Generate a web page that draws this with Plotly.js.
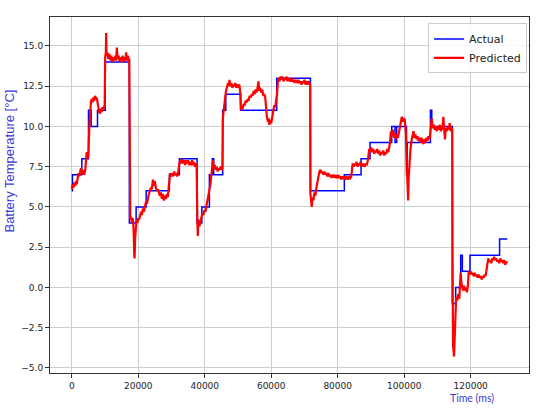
<!DOCTYPE html>
<html>
<head>
<meta charset="utf-8">
<script src="https://cdn.plot.ly/plotly-3.0.1.min.js"></script>
<style>html,body{margin:0;padding:0;background:#fff;}#chart{width:540px;height:409px;}</style>
</head>
<body>
<div id="chart"></div>
<script>
// Actual battery temperature: [time ms, °C] change points (step signal)
const actualSeries = [[0,6],[200,7],[3030,8],[5030,11],[5830,10],[7740,11],[10060,14],[17320,4],[19360,5],[22370,6],[29380,7],[32385,8],[37700,4],[39120,5],[41400,7],[42300,8],[42700,7],[45400,11],[46330,12],[50840,11],[61660,13],[71800,6],[82000,7],[87030,8],[89730,9],[96250,10],[97250,9],[97750,10],[100700,7],[100900,9],[107900,11],[108300,10],[114480,-1],[115490,0],[117000,2],[117500,1],[119800,2],[128700,3],[131000,3]];

// Predicted battery temperature: [time ms, °C]
const predictedSeries = [[0,6.1],[250,6.4],[500,6.2],[750,6.5],[1000,6.3],[1250,6.6],[1500,6.4],
[1750,6.8],[2000,7.1],[2250,6.9],[2500,7.2],[2750,7.4],[3000,7.2],[3250,7.0],[3500,7.3],[3750,7.0],[4000,7.2],[4250,7.8],[4500,8.4],[4750,8.0],[5000,8.3],
[5250,9.8],[5500,11.2],[5750,11.5],[6000,11.7],[6250,11.5],[6500,11.8],[6750,11.6],[7000,11.9],[7250,11.7],[7500,11.8],[7750,11.5],[8000,11.1],[8250,10.9],[8500,10.8],[8750,11.1],[9000,10.9],[9250,11.2],[9500,11.1],[9750,11.3],[9900,11.3],
[10050,14.3],[10250,14.6],[10350,15.8],[10450,14.4],[10700,14.6],[11000,14.2],[11300,14.5],[11600,14.1],[11900,14.4],[12200,14.0],[12500,14.3],[12800,14.1],[13100,14.4],[13350,14.1],[13560,14.9],[13800,14.2],[14100,14.4],[14400,14.0],[14700,14.3],[15000,14.1],[15300,14.4],[15600,14.0],[15900,14.3],[16150,14.1],[16350,14.6],[16600,14.1],[16900,14.4],[17150,14.1],[17300,14.2],
[17380,4.6],[17600,4.2],[17850,4.4],[18100,4.0],[18350,4.3],[18600,3.6],[18800,2.0],[18900,1.8],[19050,3.0],[19270,4.0],[19500,4.2],[19750,4.0],[20000,4.3],[20250,4.2],[20570,4.5],[20850,4.7],[21100,4.5],[21400,4.9],[21700,4.7],[22000,5.0],[22300,5.3],[22600,5.2],[22900,5.6],[23200,5.8],[23500,6.0],[23800,6.2],[24100,6.1],[24400,6.7],[24700,6.3],[25000,6.6],[25300,6.2],[25600,6.0],[25900,6.1],[26200,5.9],[26500,5.7],[26800,5.9],[27100,5.5],[27400,5.8],[27700,5.4],[28000,5.7],[28300,5.5],[28600,5.8],[28900,5.6],[29150,6.2],[29400,6.9],[29600,7.1],[29900,6.9],[30200,7.1],[30500,6.9],[30800,7.2],[31100,7.0],[31400,7.1],[31700,6.9],[32000,7.1],[32300,7.6],[32600,7.9],[32900,7.7],[33200,8.0],[33500,7.7],[33800,7.9],[34100,7.6],[34400,7.9],[34700,7.7],[35000,7.9],[35300,7.6],[35600,7.8],[35900,7.6],[36200,7.9],[36500,7.6],[36800,7.8],[37100,7.5],[37400,7.7],[37550,7.6],
[37650,4.4],[37800,4.0],[37920,3.2],[38100,4.2],[38400,3.8],[38700,4.1],[39000,4.3],[39300,4.6],[39600,4.5],[39900,4.8],[40200,4.7],[40500,5.0],[40800,5.3],[41100,5.6],[41400,6.0],[41700,6.4],[42000,7.0],[42300,7.5],[42500,7.9],[42700,7.4],[43000,7.6],[43300,7.3],[43600,7.5],[43900,7.2],[44200,7.4],[44500,7.3],[44800,7.5],[45100,7.3],[45300,7.4],
[45450,10.5],[45700,11.1],[46000,11.3],[46150,11.8],[46400,12.2],[46700,12.6],[47000,12.7],[47300,12.5],[47450,12.9],[47700,12.5],[48000,12.7],[48300,12.4],[48600,12.6],[48900,12.5],[49200,12.7],[49500,12.4],[49800,12.6],[50100,12.5],[50400,12.6],[50650,12.2],[50850,11.0],[51100,11.2],[51400,11.1],[51700,11.4],[52000,11.3],[52300,11.6],[52600,11.5],[52900,11.7],[53200,11.6],[53500,11.9],[53800,11.8],[54100,12.0],[54400,11.9],[54700,12.2],[55000,12.0],[55300,12.3],[55600,12.1],[55900,12.4],[56150,12.8],[56400,12.2],[56700,12.4],[57000,12.1],[57300,12.3],[57600,11.9],[57900,12.0],[58150,11.9],[58400,11.2],[58700,10.6],[59000,10.3],[59200,10.5],[59450,10.1],[59700,10.4],[60000,10.2],[60300,10.6],[60650,10.9],[60900,11.3],[61200,11.2],[61500,11.6],[61750,12.0],[62000,12.8],[62200,13.0],
[62500,12.8],[62800,13.1],[63100,12.9],[63400,13.1],[63700,12.8],[64000,13.0],[64300,12.9],[64600,13.1],[64900,12.8],[65200,13.0],[65500,12.9],[65800,12.8],[66100,13.0],[66400,12.8],[66700,12.9],[67000,12.7],[67300,12.9],[67600,12.8],[67900,12.7],[68200,12.9],[68500,12.7],[68800,12.8],[69100,12.6],[69400,12.8],[69700,12.7],[70000,12.9],[70300,12.6],[70600,12.8],[70900,12.6],[71200,12.8],[71500,12.7],[71700,12.6],
[71800,5.8],[72000,5.5],[72200,5.0],[72400,5.6],[72700,5.4],[73000,5.9],[73300,5.7],[73600,6.2],[73900,6.6],[74200,7.0],[74500,7.2],[74800,7.3],[75100,7.1],[75400,7.2],[75700,7.0],[76000,7.2],[76300,7.0],[76600,7.1],[76900,6.9],[77200,7.1],[77500,6.9],[77800,7.0],[78100,6.8],[78400,7.0],[78700,6.9],[79000,7.0],[79300,6.8],[79600,6.9],[79900,6.8],[80200,7.0],[80500,6.8],[80800,6.9],[81100,6.7],[81400,6.9],[81700,6.8],[82000,6.9],[82300,6.7],[82600,6.9],[82900,6.8],[83200,6.7],[83500,6.9],[83800,6.8],[84100,6.9],[84300,7.5],[84500,7.7],[84800,7.5],[85100,7.7],[85400,7.6],[85700,7.8],[86000,7.5],[86300,7.7],[86600,7.6],[86900,7.8],[87200,7.5],[87500,7.7],[87800,7.6],[88100,7.5],[88400,7.7],[88700,7.6],[89000,7.8],
[89300,8.3],[89500,8.6],[89800,8.4],[90100,8.7],[90400,8.4],[90700,8.6],[91000,8.3],[91300,8.5],[91600,8.4],[91900,8.6],[92200,8.3],[92500,8.5],[92800,8.2],[93100,8.4],[93400,8.3],[93700,8.5],[94000,8.2],[94300,8.4],[94600,8.3],[94900,8.6],[95200,8.4],[95500,8.7],[95750,9.0],[96000,9.7],[96300,9.4],[96600,9.8],[96900,9.3],[97200,9.6],[97500,9.2],[97800,9.5],[98100,9.3],[98400,9.6],[98700,9.9],[99000,10.4],[99300,10.6],[99600,10.3],[99900,10.5],[100200,10.4],[100500,9.6],[100800,7.5],[101000,6.2],[101200,5.4],[101350,6.8],[101600,7.9],[101900,8.6],[102200,9.1],[102500,9.4],[102800,9.7],[103100,9.3],[103400,9.5],[103700,9.2],[104000,9.4],[104300,9.1],[104600,9.3],[104900,9.0],[105200,9.3],[105500,9.1],[105800,8.9],[106100,9.2],[106400,9.0],[106700,9.3],[107000,9.1],[107300,9.4],[107600,9.2],[107850,9.6],
[108050,10.3],[108300,10.5],[108600,9.9],[108900,10.1],[109200,9.8],[109500,10.0],[109800,9.7],[110100,10.0],[110400,9.8],[110700,10.1],[111000,9.7],[111300,9.9],[111500,9.8],[111770,10.6],[112000,9.9],[112280,9.2],[112500,9.9],[112800,9.7],[113100,10.0],[113400,9.8],[113700,10.2],[114000,9.7],[114300,9.9],[114450,9.8],
[114550,2.0],[114700,-3.6],[115000,-4.3],[115200,-2.5],[115400,-1.5],[115600,-0.8],[115800,-0.6],[116000,-0.8],[116300,-0.4],[116600,-0.7],[116800,0.2],[117000,0.9],[117200,0.3],[117400,0.0],[117700,-0.2],[118000,0.1],[118300,-0.2],[118600,0.0],[118900,-0.3],[119200,0.2],[119400,1.0],[119700,0.8],[120000,1.0],[120300,0.8],[120600,0.9],[120900,0.7],[121200,0.9],[121500,0.7],[121800,0.8],[122100,0.6],[122400,0.8],[122700,0.6],[123000,0.7],[123300,0.5],[123600,0.7],[123900,0.6],[124200,0.8],[124500,0.7],[124800,1.2],[125000,1.6],[125300,1.8],[125600,1.6],[125900,1.7],[126200,1.5],[126500,1.8],[126800,1.7],[127100,1.9],[127400,1.7],[127700,1.8],[128000,1.6],[128300,1.7],[128600,1.5],[128900,1.8],[129200,1.6],[129500,1.7],[129800,1.5],[130100,1.7],[130400,1.4],[130700,1.6],[131000,1.5]];

const xTickVals = [0, 20000, 40000, 60000, 80000, 100000, 120000];
const xTickText = ['0', '20000', '40000', '60000', '80000', '100000', '120000'];
const yTickVals = [-5, -2.5, 0, 2.5, 5, 7.5, 10, 12.5, 15];
const yTickText = ['\u22125.0', '\u22122.5', '0.0', '2.5', '5.0', '7.5', '10.0', '12.5', '15.0'];
const seriesNames = ['Actual', 'Predicted'];

const actualTime = actualSeries.map(p => p[0]);
const actualTemp = actualSeries.map(p => p[1]);
const predTime = predictedSeries.map(p => p[0]);
const predTemp = predictedSeries.map(p => p[1]);

const tickFont = {family: 'DejaVu Sans', size: 9, color: '#222'};
const titleColor = 'rgb(58,58,215)';

const traces = [
  {x: actualTime, y: actualTemp, type: 'scatter', mode: 'lines', name: seriesNames[0],
   line: {color: '#0000ff', width: 1.5, shape: 'hv'}},
  {x: predTime, y: predTemp, type: 'scatter', mode: 'lines', name: seriesNames[1],
   line: {color: '#ff0000', width: 2.2}}
];

const layout = {
  width: 540, height: 409,
  margin: {l: 50, r: 11, t: 17, b: 36, pad: 0},
  paper_bgcolor: '#ffffff', plot_bgcolor: '#ffffff',
  showlegend: true,
  legend: {x: 0.996, y: 0.982, xanchor: 'right', yanchor: 'top',
    bgcolor: 'rgba(255,255,255,0.85)', bordercolor: '#cccccc', borderwidth: 1,
    font: {family: 'DejaVu Sans', size: 11, color: '#222'}, itemwidth: 30, tracegroupgap: 0},
  xaxis: {range: [-6550, 137550], tickvals: xTickVals, ticktext: xTickText,
    showgrid: true, gridcolor: '#cfcfcf', gridwidth: 1, zeroline: false,
    showline: true, mirror: true, linecolor: '#333', linewidth: 1,
    ticks: 'outside', ticklen: 4, tickcolor: '#333', tickfont: tickFont},
  yaxis: {range: [-5.32, 16.8], tickvals: yTickVals, ticktext: yTickText,
    showgrid: true, gridcolor: '#cfcfcf', gridwidth: 1, zeroline: false,
    showline: true, mirror: true, linecolor: '#333', linewidth: 1,
    ticks: 'outside', ticklen: 4, tickcolor: '#333', tickfont: tickFont},
  annotations: [
    {text: 'Battery Temperature [°C]', xref: 'paper', yref: 'paper', x: -0.0835, y: 0.594,
     xanchor: 'center', yanchor: 'middle', textangle: -90, showarrow: false,
     font: {family: 'Liberation Sans', size: 13, color: titleColor}},
    {text: 'Time (ms)', xref: 'paper', yref: 'paper', x: 0.881, y: -0.0702,
     xanchor: 'center', yanchor: 'middle', showarrow: false,
     font: {family: 'Lato', size: 10.5, color: titleColor}}
  ]
};

Plotly.newPlot('chart', traces, layout, {displayModeBar: false, staticPlot: true});
</script>
</body>
</html>
